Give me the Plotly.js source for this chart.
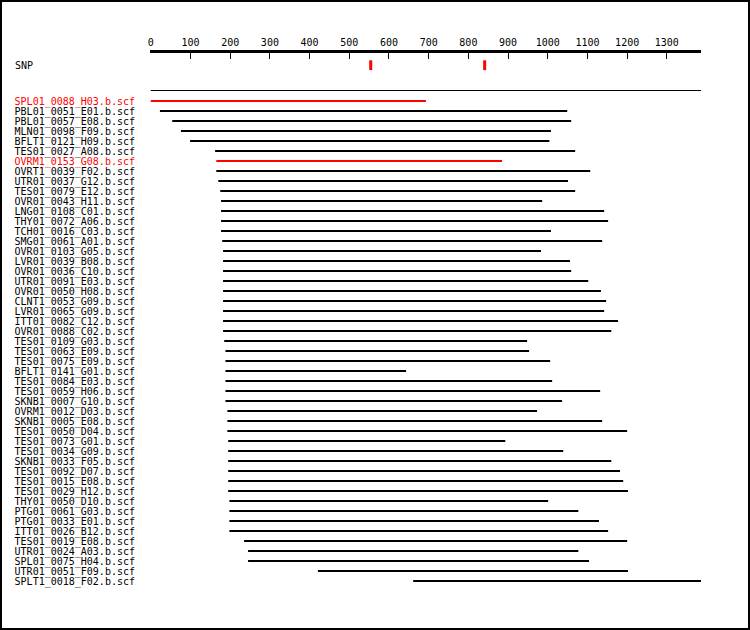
<!DOCTYPE html>
<html>
<head>
<meta charset="utf-8">
<script src="https://cdn.plot.ly/plotly-3.0.1.min.js"></script>
<style>
  html, body { margin: 0; padding: 0; background: #fff; }
  #wrap { position: relative; width: 750px; height: 630px; }
  #chart { width: 750px; height: 630px; }
  #frame { position: absolute; left: 0; top: 0; width: 750px; height: 630px;
           box-sizing: border-box; border: 2px solid #000; pointer-events: none; }
</style>
</head>
<body>
<div id="wrap"><div id="chart"></div><div id="frame"></div></div>
<script>
const readNames = [
  "SPL01_0088_H03.b.scf","PBL01_0051_E01.b.scf","PBL01_0057_E08.b.scf","MLN01_0098_F09.b.scf",
  "BFLT1_0121_H09.b.scf","TES01_0027_A08.b.scf","OVRM1_0153_G08.b.scf","OVRT1_0039_F02.b.scf",
  "UTR01_0037_G12.b.scf","TES01_0079_E12.b.scf","OVR01_0043_H11.b.scf","LNG01_0108_C01.b.scf",
  "THY01_0072_A06.b.scf","TCH01_0016_C03.b.scf","SMG01_0061_A01.b.scf","OVR01_0103_G05.b.scf",
  "LVR01_0039_B08.b.scf","OVR01_0036_C10.b.scf","UTR01_0091_E03.b.scf","OVR01_0050_H08.b.scf",
  "CLNT1_0053_G09.b.scf","LVR01_0065_G09.b.scf","ITT01_0082_C12.b.scf","OVR01_0088_C02.b.scf",
  "TES01_0109_G03.b.scf","TES01_0063_E09.b.scf","TES01_0075_E09.b.scf","BFLT1_0141_G01.b.scf",
  "TES01_0084_E03.b.scf","TES01_0059_H06.b.scf","SKNB1_0007_G10.b.scf","OVRM1_0012_D03.b.scf",
  "SKNB1_0005_E08.b.scf","TES01_0050_D04.b.scf","TES01_0073_G01.b.scf","TES01_0034_G09.b.scf",
  "SKNB1_0033_F05.b.scf","TES01_0092_D07.b.scf","TES01_0015_E08.b.scf","TES01_0029_H12.b.scf",
  "THY01_0050_D10.b.scf","PTG01_0061_G03.b.scf","PTG01_0033_E01.b.scf","ITT01_0026_B12.b.scf",
  "TES01_0019_E08.b.scf","UTR01_0024_A03.b.scf","SPL01_0075_H04.b.scf","UTR01_0051_F09.b.scf",
  "SPLT1_0018_F02.b.scf"
];
const readStarts = [0,23,54,76,99,162,165,165,170,175,177,177,177,177,180,182,182,182,182,182,182,182,182,182,
  185,188,188,188,188,188,188,193,193,193,195,195,195,195,195,195,198,198,198,198,235,245,245,421,661];
const readEnds = [693,1049,1059,1008,1004,1069,885,1107,1051,1069,986,1142,1152,1008,1137,983,1056,1059,1102,1134,
  1147,1142,1177,1160,948,953,1006,643,1011,1132,1036,973,1137,1200,893,1039,1160,1182,1190,1202,
  1001,1077,1129,1152,1200,1077,1104,1202,1386];
const highlightedReads = ["SPL01_0088_H03.b.scf","OVRM1_0153_G08.b.scf"];
const snpLabel = "SNP";
const snpPositions = [554, 841];
const consensusRange = [0, 1386];
const tickValues = [0,100,200,300,400,500,600,700,800,900,1000,1100,1200,1300];
const tickLabels = ["0","100","200","300","400","500","600","700","800","900","1000","1100","1200","1300"];

const FONT = "DejaVu Sans Mono, Liberation Mono, monospace";
const RED = "#ff0000";
const ROW_SNP = -2.58;
const ROW_CONS = -0.05;

const blackX = [], blackY = [], redX = [], redY = [];
readNames.forEach((n, i) => {
  const row = i + 1;
  const hl = highlightedReads.includes(n);
  (hl ? redX : blackX).push(readStarts[i], readEnds[i], null);
  (hl ? redY : blackY).push(row, row, null);
});

const rowVals = readNames.map((n, i) => i + 1);
const rowText = readNames.map(n =>
  highlightedReads.includes(n) ? '<span style="color:' + RED + '">' + n + '</span>' : n);

const traces = [
  {x: consensusRange, y: [ROW_CONS, ROW_CONS], mode: "lines", line: {color: "#000", width: 1}, hoverinfo: "skip"},
  {x: blackX, y: blackY, mode: "lines", line: {color: "#000", width: 2}, connectgaps: false, hoverinfo: "skip"},
  {x: redX, y: redY, mode: "lines", line: {color: RED, width: 2}, connectgaps: false, hoverinfo: "skip"},
  {x: snpPositions, y: snpPositions.map(() => ROW_SNP), mode: "markers",
   marker: {symbol: "line-ns", size: 7, color: RED, line: {color: RED, width: 3}}, hoverinfo: "skip"}
];

const layout = {
  width: 750, height: 630,
  margin: {l: 150, r: 49, t: 53, b: 37, pad: 0},
  paper_bgcolor: "#fff", plot_bgcolor: "#fff",
  showlegend: false,
  font: {family: FONT, size: 10, color: "#000"},
  xaxis: {
    side: "top", range: [-2, 1386], showgrid: false, zeroline: false,
    showline: true, linecolor: "#000", linewidth: 3,
    ticks: "inside", ticklen: 6, tickwidth: 1, tickcolor: "#000",
    tickvals: tickValues, ticktext: tickLabels,
    tickfont: {family: FONT, size: 10, color: "#000"}, fixedrange: true
  },
  yaxis: {
    range: [50.2, -3.8], showgrid: false, zeroline: false, showline: false,
    ticks: "", tickvals: rowVals, ticktext: rowText, ticklabelstandoff: 14,
    tickfont: {family: FONT, size: 10, color: "#000"}, fixedrange: true
  },
  annotations: [{
    xref: "paper", yref: "y", x: (13 - 150) / 551, y: ROW_SNP, xanchor: "left", yanchor: "middle",
    text: snpLabel, showarrow: false, font: {family: FONT, size: 10, color: "#000"}
  }]
};

Plotly.newPlot("chart", traces, layout, {displayModeBar: false, staticPlot: true});
</script>
</body>
</html>
